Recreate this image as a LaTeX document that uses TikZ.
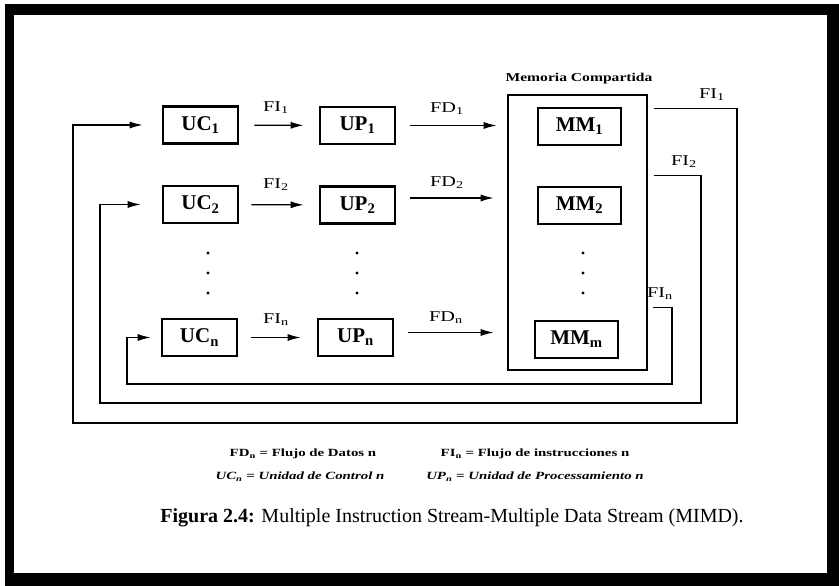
\documentclass[tikz,border=0pt]{standalone}
\usepackage{fontspec}
\setmainfont{Liberation Serif}
\usepackage{graphicx}
\usetikzlibrary{arrows.meta,calc}
\newcommand{\hsc}[2][1.35]{\scalebox{#1}[1]{#2}}
\begin{document}
\begin{tikzpicture}[x=1pt,y=-1pt,
  ubox/.style={draw,line width=2.6pt,minimum width=75pt,minimum height=37pt,inner sep=0pt,font=\fontsize{21}{21}\selectfont\bfseries},
  mbox/.style={draw,line width=1.8pt,minimum width=83pt,minimum height=37pt,inner sep=0pt,font=\fontsize{21}{21}\selectfont\bfseries},
  flow/.style={line width=1.3pt,-{Latex[length=13pt,width=7pt]}},
  fb/.style={line width=1.2pt},
  flab/.style={font=\fontsize{15}{15}\selectfont,inner sep=0pt},
  dotn/.style={circle,fill,inner sep=0pt,minimum size=3.2pt},
  legend/.style={font=\fontsize{11}{11}\selectfont\bfseries,inner sep=0pt},
]
\useasboundingbox (0,0) rectangle (839,586);
% frame
\fill[black] (5,4) rectangle (839,586);
\fill[white] (14,15) rectangle (827,573);

% shared memory
\node[draw,line width=2.6pt,minimum width=139pt,minimum height=275pt,inner sep=0pt] (mmbox) at (577.5,232.5) {};
\node[font=\fontsize{12}{12}\selectfont\bfseries,inner sep=0pt] (memlab) at (579,79) {\hsc[1.3]{Memoria Compartida}};
\node[mbox] (mm1) at (579.5,126.5) {MM\textsubscript{1}};
\node[mbox] (mm2) at (579.5,205.5) {MM\textsubscript{2}};
\node[mbox] (mmm) at (576.5,339.5) {MM\textsubscript{m}};

% control and processing units
\node[ubox] (uc1) at (200.5,125) {UC\textsubscript{1}};
\node[ubox] (up1) at (357.5,125.5) {UP\textsubscript{1}};
\node[ubox] (uc2) at (200.5,204.5) {UC\textsubscript{2}};
\node[ubox] (up2) at (357.5,205) {UP\textsubscript{2}};
\node[ubox] (ucn) at (199.5,337.5) {UC\textsubscript{n}};
\node[ubox] (upn) at (355.5,337.5) {UP\textsubscript{n}};

% dots
\foreach \i/\y in {1/253,2/273,3/293}{
  \node[dotn] (dc\i) at (208,\y) {};
  \node[dotn] (dp\i) at (357,\y) {};
  \node[dotn] (dm\i) at (583,\y) {};
}

% instruction flows UC -> UP
\draw[flow,shorten <=15pt,shorten >=15pt] (uc1) -- (up1);
\draw[flow,shorten <=12pt,shorten >=15pt] (uc2) -- (up2);
\draw[flow,shorten <=13pt,shorten >=16pt] (ucn) -- (upn);
\node[flab] (fi1) at (276,108) {\hsc[1.35]{FI\textsubscript{1}}};
\node[flab] (fi2) at (276,185) {\hsc[1.35]{FI\textsubscript{2}}};
\node[flab] (fin) at (276,320) {\hsc[1.35]{FI\textsubscript{n}}};

% data flows UP -> MM
\draw[flow,shorten <=14pt,shorten >=10pt] (up1.east) -- (up1.east -| mmbox.west);
\draw[flow,shorten <=14pt,shorten >=13pt] ([yshift=7pt]up2.east) -- ([yshift=7pt]up2.east -| mmbox.west);
\draw[flow,shorten <=14pt,shorten >=13pt] ([yshift=5pt]upn.east) -- ([yshift=5pt]upn.east -| mmbox.west);
\node[flab] (fd1) at (447,109) {\hsc[1.35]{FD\textsubscript{1}}};
\node[flab] (fd2) at (447,183) {\hsc[1.35]{FD\textsubscript{2}}};
\node[flab] (fdn) at (446,318) {\hsc[1.35]{FD\textsubscript{n}}};

% feedback loops
\coordinate (o1) at ($(mmbox.east)+(6,-124)$);
\coordinate (o2) at ($(mmbox.east)+(6,-57)$);
\coordinate (on) at ($(mmbox.east)+(5,75)$);
\draw[fb,-{Latex[length=13pt,width=7pt]}] (o1) -| (737,423) -- (73,423) |- ($(uc1.west)+(-19,0)$);
\draw[fb,-{Latex[length=13pt,width=7pt]}] (o2) -| (701,403) -- (100,403) |- ($(uc2.west)+(-21,0)$);
\draw[fb,-{Latex[length=13pt,width=7pt]}] (on) -| (672,384) -- (127,384) |- ($(ucn.west)+(-10,0)$);
\node[flab] (lfi1) at (712,95) {\hsc[1.35]{FI\textsubscript{1}}};
\node[flab] (lfi2) at (684,162) {\hsc[1.35]{FI\textsubscript{2}}};
\node[flab] (lfin) at (660,294) {\hsc[1.35]{FI\textsubscript{n}}};

% legend
\node[legend] (leg1) at (303,454) {\hsc{FD\textsubscript{n} = Flujo de Datos n}};
\node[legend] (leg2) at (535,454) {\hsc{FI\textsubscript{n} = Flujo de instrucciones n}};
\node[legend,font=\fontsize{11}{11}\selectfont\bfseries\itshape] (leg3) at (300,477) {\hsc{UC\textsubscript{n} = Unidad de Control n}};
\node[legend,font=\fontsize{11}{11}\selectfont\bfseries\itshape] (leg4) at (535,477) {\hsc{UP\textsubscript{n} = Unidad de Processamiento n}};

% caption
\node[font=\fontsize{20}{20}\selectfont,inner sep=0pt] (cap) at (452,518) {\textbf{Figura 2.4:} Multiple Instruction Stream-Multiple Data Stream (MIMD).};
\end{tikzpicture}
\end{document}
